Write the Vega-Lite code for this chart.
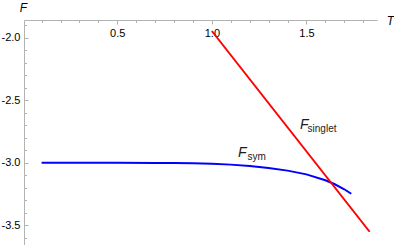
{
  "$schema": "https://vega.github.io/schema/vega-lite/v6.json",
  "width": 353,
  "height": 225,
  "autosize": "none",
  "padding": {"left": 24, "top": 20, "right": 17, "bottom": 0},
  "background": "white",
  "config": {"view": {"stroke": null}, "font": "Liberation Sans"},
  "datasets": {
    "curves": [
      {"series": "sym", "T": 0.1, "F": -3.0},
      {"series": "sym", "T": 0.3, "F": -3.0},
      {"series": "sym", "T": 0.5, "F": -3.0},
      {"series": "sym", "T": 0.7, "F": -3.001},
      {"series": "sym", "T": 0.8, "F": -3.002},
      {"series": "sym", "T": 0.9, "F": -3.004},
      {"series": "sym", "T": 1.0, "F": -3.008},
      {"series": "sym", "T": 1.1, "F": -3.015},
      {"series": "sym", "T": 1.2, "F": -3.026},
      {"series": "sym", "T": 1.3, "F": -3.042},
      {"series": "sym", "T": 1.4, "F": -3.063},
      {"series": "sym", "T": 1.5, "F": -3.093},
      {"series": "sym", "T": 1.6, "F": -3.14},
      {"series": "sym", "T": 1.65, "F": -3.172},
      {"series": "sym", "T": 1.7, "F": -3.212},
      {"series": "sym", "T": 1.737, "F": -3.248},
      {"series": "singlet", "T": 1.0, "F": -1.946},
      {"series": "singlet", "T": 1.834, "F": -3.552}
    ],
    "labels": [
      {"part": "main", "text": "F", "T": 1.138, "F": -2.954},
      {"part": "sub", "text": "sym", "T": 1.188, "F": -2.978},
      {"part": "main", "text": "F", "T": 1.466, "F": -2.73},
      {"part": "sub", "text": "singlet", "T": 1.506, "F": -2.752}
    ]
  },
  "resolve": {"axis": {"x": "independent", "y": "independent"}},
  "layer": [
    {
      "data": {"name": "curves"},
      "mark": {"type": "line", "strokeWidth": 2, "clip": true},
      "encoding": {
        "x": {
          "field": "T", "type": "quantitative",
          "scale": {"domain": [0.007, 1.873], "nice": false, "zero": false},
          "axis": {
            "orient": "top", "values": [0.5, 1.0, 1.5], "grid": false,
            "domainColor": "#b3b3b3", "domainWidth": 1,
            "tickColor": "#b3b3b3", "tickSize": -4,
            "labelBaseline": "top", "labelPadding": -3, "labelFontSize": 11,
            "labelColor": "#000000", "labelFont": "Liberation Sans",
            "labelExpr": "format(datum.value, '.1f')",
            "title": "T", "titleFontStyle": "italic", "titleFontWeight": "normal",
            "titleFontSize": 12, "titleColor": "#000000", "titleX": 366, "titleY": 0,
            "titleAlign": "center", "titleBaseline": "middle", "titleAngle": 0
          }
        },
        "y": {
          "field": "F", "type": "quantitative",
          "scale": {"domain": [-3.658, -1.858], "nice": false, "zero": false},
          "axis": {
            "orient": "left", "values": [-3.5, -3.0, -2.5, -2.0], "grid": false,
            "domainColor": "#b3b3b3", "domainWidth": 1,
            "tickColor": "#b3b3b3", "tickSize": -4,
            "labelPadding": 8, "labelFontSize": 11, "labelColor": "#000000",
            "labelFont": "Liberation Sans", "labelAlign": "right", "labelBaseline": "middle",
            "labelExpr": "(datum.value < 0 ? '-' : '') + format(abs(datum.value), '.1f')",
            "title": "F", "titleFontStyle": "italic", "titleFontWeight": "normal",
            "titleFontSize": 12, "titleColor": "#000000", "titleX": -1, "titleY": -13,
            "titleAlign": "center", "titleBaseline": "middle", "titleAngle": 0
          }
        },
        "color": {
          "field": "series", "type": "nominal",
          "scale": {"domain": ["sym", "singlet"], "range": ["#0000ff", "#ff0000"]},
          "legend": null
        },
        "detail": {"field": "series"}
      }
    },
    {
      "data": {"values": [{"T": 0.1, "F": -1.9}, {"T": 0.2, "F": -2.1}, {"T": 0.3, "F": -2.2}]},
      "mark": {"type": "point", "opacity": 0},
      "encoding": {
        "x": {
          "field": "T", "type": "quantitative",
          "scale": {"domain": [0.007, 1.873], "nice": false, "zero": false},
          "axis": {
            "orient": "top", "values": [0.1, 0.2, 0.3, 0.4, 0.6, 0.7, 0.8, 0.9, 1.1, 1.2, 1.3, 1.4, 1.6, 1.7, 1.8],
            "grid": false, "domain": false, "labels": false, "title": null,
            "tickColor": "#b3b3b3", "tickSize": -2.5
          }
        },
        "y": {
          "field": "F", "type": "quantitative",
          "scale": {"domain": [-3.658, -1.858], "nice": false, "zero": false},
          "axis": {
            "orient": "left", "values": [-3.6, -3.4, -3.3, -3.2, -3.1, -2.9, -2.8, -2.7, -2.6, -2.4, -2.3, -2.2, -2.1, -1.9],
            "grid": false, "domain": false, "labels": false, "title": null,
            "tickColor": "#b3b3b3", "tickSize": -2.5
          }
        }
      }
    },
    {
      "data": {"name": "labels"},
      "transform": [{"filter": "datum.part === 'main'"}],
      "mark": {"type": "text", "align": "left", "baseline": "alphabetic", "fontSize": 14, "fontStyle": "italic", "font": "Liberation Sans", "color": "#1a1a1a"},
      "encoding": {
        "x": {"field": "T", "type": "quantitative", "scale": {"domain": [0.007, 1.873], "nice": false, "zero": false}, "axis": null},
        "y": {"field": "F", "type": "quantitative", "scale": {"domain": [-3.658, -1.858], "nice": false, "zero": false}, "axis": null},
        "text": {"field": "text"}
      }
    },
    {
      "data": {"name": "labels"},
      "transform": [{"filter": "datum.part === 'sub'"}],
      "mark": {"type": "text", "align": "left", "baseline": "alphabetic", "fontSize": 10, "font": "Liberation Sans", "color": "#1a1a1a"},
      "encoding": {
        "x": {"field": "T", "type": "quantitative", "scale": {"domain": [0.007, 1.873], "nice": false, "zero": false}, "axis": null},
        "y": {"field": "F", "type": "quantitative", "scale": {"domain": [-3.658, -1.858], "nice": false, "zero": false}, "axis": null},
        "text": {"field": "text"}
      }
    }
  ]
}
